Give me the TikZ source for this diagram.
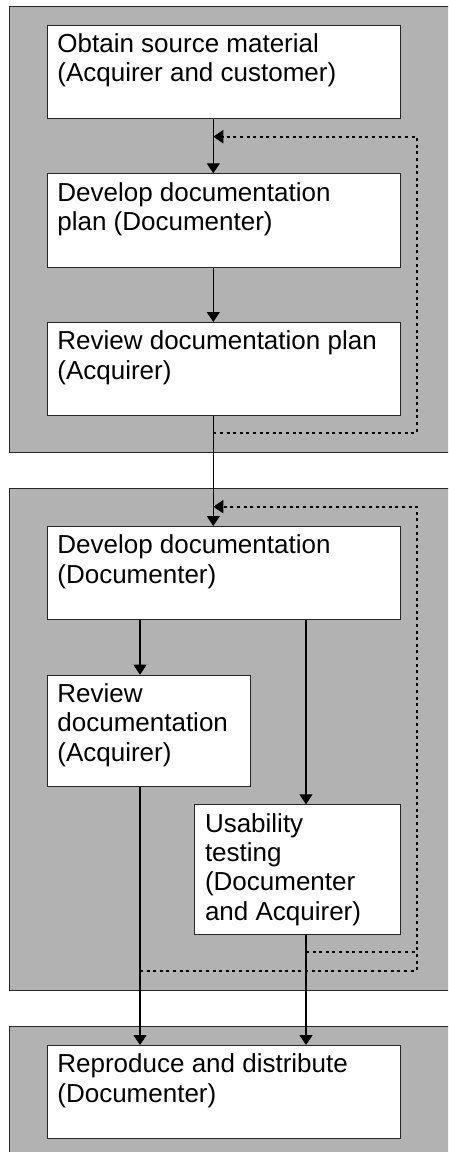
\documentclass[tikz,border=0pt]{standalone}
\usepackage{fontspec}
\setmainfont{Liberation Sans}
\usetikzlibrary{arrows.meta}
\definecolor{panelgray}{RGB}{178,178,178}
\tikzset{
  panel/.style={draw=black!85,line width=1pt,fill=panelgray},
  stepbox/.style={draw=black!85,line width=1pt,fill=white,rectangle,inner sep=0pt,anchor=north west},
  txt/.style={inner sep=0pt,anchor=base west,font=\fontsize{26}{29.4}\selectfont},
  arr/.style={line width=1.3pt,-{Triangle[width=13pt,length=10pt]}},
  fb/.style={line width=2pt,dash pattern=on 3pt off 3.6pt},
  fbarr/.style={fb,-{Triangle[width=13pt,length=10pt]}},
}
\newcommand{\lines}[1]{\begin{tabular}[t]{@{}l@{}}#1\end{tabular}}
\begin{document}
\begin{tikzpicture}[x=1pt,y=-1pt]
\useasboundingbox (0,0) rectangle (448,1152);
\clip (0,0) rectangle (448,1152);
% panels
\draw[panel] (9.3,6) rectangle (470,452.7);
\draw[panel] (9.3,488.3) rectangle (470,990);
\draw[panel] (9.3,1026.7) rectangle (470,1180);
% guide coordinates
\coordinate (cA) at (213.3,0);
\coordinate (cL) at (140,0);
\coordinate (cR) at (306,0);
\coordinate (cV) at (416.7,0);
% boxes
\node[stepbox,minimum width=353.3pt,minimum height=93.3pt] (b1) at (46.7,24.7) {};
\node[stepbox,minimum width=353.3pt,minimum height=93.3pt] (b2) at (46.7,173.3) {};
\node[stepbox,minimum width=353.3pt,minimum height=93pt] (b3) at (46.7,322) {};
\node[stepbox,minimum width=353.3pt,minimum height=93pt] (b4) at (46.7,526) {};
\node[stepbox,minimum width=203.6pt,minimum height=111pt] (b5) at (46.7,674.7) {};
\node[stepbox,minimum width=205.7pt,minimum height=130pt] (b6) at (194.3,804.3) {};
\node[stepbox,minimum width=353.3pt,minimum height=93.3pt] (b7) at (46.7,1045) {};
% texts
\node[txt] (t1) at ([shift={(10.5,27.7)}]b1.north west) {\lines{Obtain source material\\(Acquirer and customer)}};
\node[txt] (t2) at ([shift={(10.5,27.7)}]b2.north west) {\lines{Develop documentation\\plan (Documenter)}};
\node[txt] (t3) at ([shift={(10.5,27.7)}]b3.north west) {\lines{Review documentation plan\\(Acquirer)}};
\node[txt] (t4) at ([shift={(10.5,27.7)}]b4.north west) {\lines{Develop documentation\\(Documenter)}};
\node[txt] (t5) at ([shift={(10.5,27.7)}]b5.north west) {\lines{Review\\documentation\\(Acquirer)}};
\node[txt] (t6) at ([shift={(10.5,27.7)}]b6.north west) {\lines{Usability\\testing\\(Documenter\\and Acquirer)}};
\node[txt] (t7) at ([shift={(10.5,27.7)}]b7.north west) {\lines{Reproduce and distribute\\(Documenter)}};
% solid arrows
\draw[arr] (b1.south -| cA) -- (b2.north -| cA);
\draw[arr] (b2.south -| cA) -- (b3.north -| cA);
\draw[arr] (b3.south -| cA) -- (b4.north -| cA);
\draw[arr] (b4.south -| cL) -- (b5.north -| cL);
\draw[arr] (b4.south -| cR) -- (b6.north -| cR);
\draw[arr] (b5.south -| cL) -- (b7.north -| cL);
\draw[arr] (b6.south -| cR) -- (b7.north -| cR);
% feedback loops
\coordinate (f1s) at (213.3,432.7);
\coordinate (f1e) at (213.3,136.7);
\draw[fbarr] (f1s) -- (f1s -| cV) -- (f1e -| cV) -- (f1e);
\coordinate (f2s) at (140,970.7);
\coordinate (f2m) at (306,952.3);
\coordinate (f2e) at (213.3,506.7);
\draw[fbarr] (f2s) -- (f2s -| cV) -- (f2e -| cV) -- (f2e);
\draw[fb] (f2m) -- (f2m -| cV);
\end{tikzpicture}
\end{document}
